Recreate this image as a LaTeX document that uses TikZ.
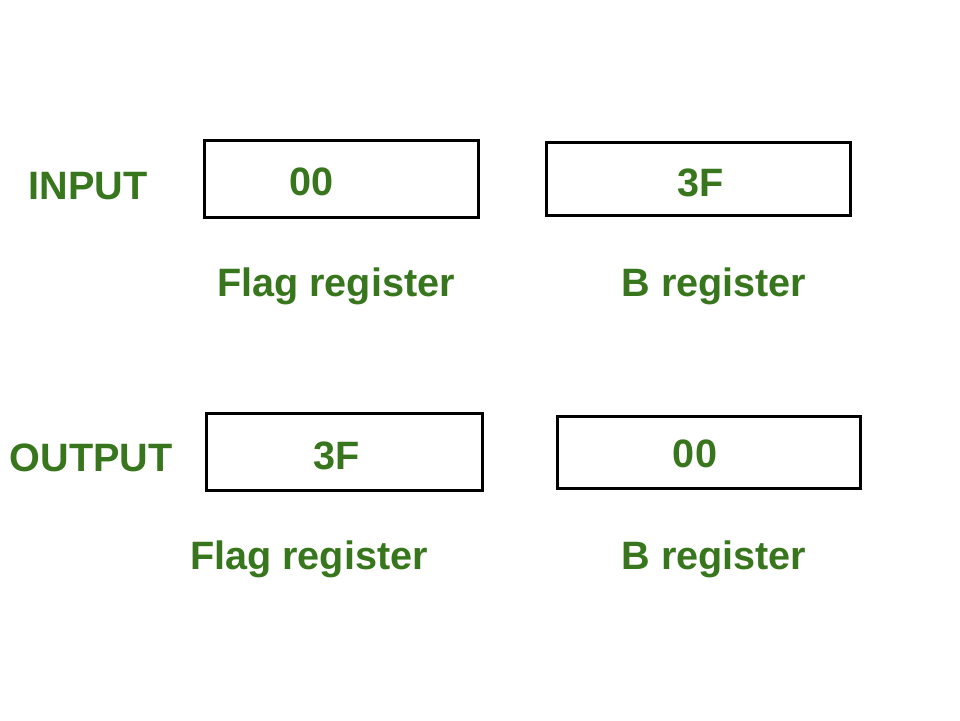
\documentclass[tikz,border=0pt]{standalone}
\usepackage{fontspec}
\setmainfont{Liberation Sans}
\definecolor{txtgreen}{HTML}{38761D}
\begin{document}
\begin{tikzpicture}[x=1pt,y=-1pt,
  reg/.style={draw=black,line width=3pt,fill=white},
  lbl/.style={text=txtgreen,font=\fontsize{39.6}{42}\selectfont\bfseries,inner sep=0pt,anchor=base}]
\useasboundingbox[fill=white] (0,0) rectangle (960,720);
\draw[reg] (204,140) rectangle (478,217);
\draw[reg] (546,142) rectangle (850,215);
\draw[reg] (206,413) rectangle (482,490);
\draw[reg] (557,416) rectangle (860,488);
\node[lbl] (in) at (88,199) {INPUT};
\node[lbl] (out) at (91,471) {OUTPUT};
\node[lbl] (v1) at (312,195) {00};
\node[lbl] (v2) at (701,196) {3F};
\node[lbl] (v3) at (337,469) {3F};
\node[lbl] (v4) at (695,467) {00};
\node[lbl] (l1) at (336,296) {Flag register};
\node[lbl] (l2) at (714,296) {B register};
\node[lbl] (l3) at (309,569) {Flag register};
\node[lbl] (l4) at (714,569) {B register};
\end{tikzpicture}
\end{document}
